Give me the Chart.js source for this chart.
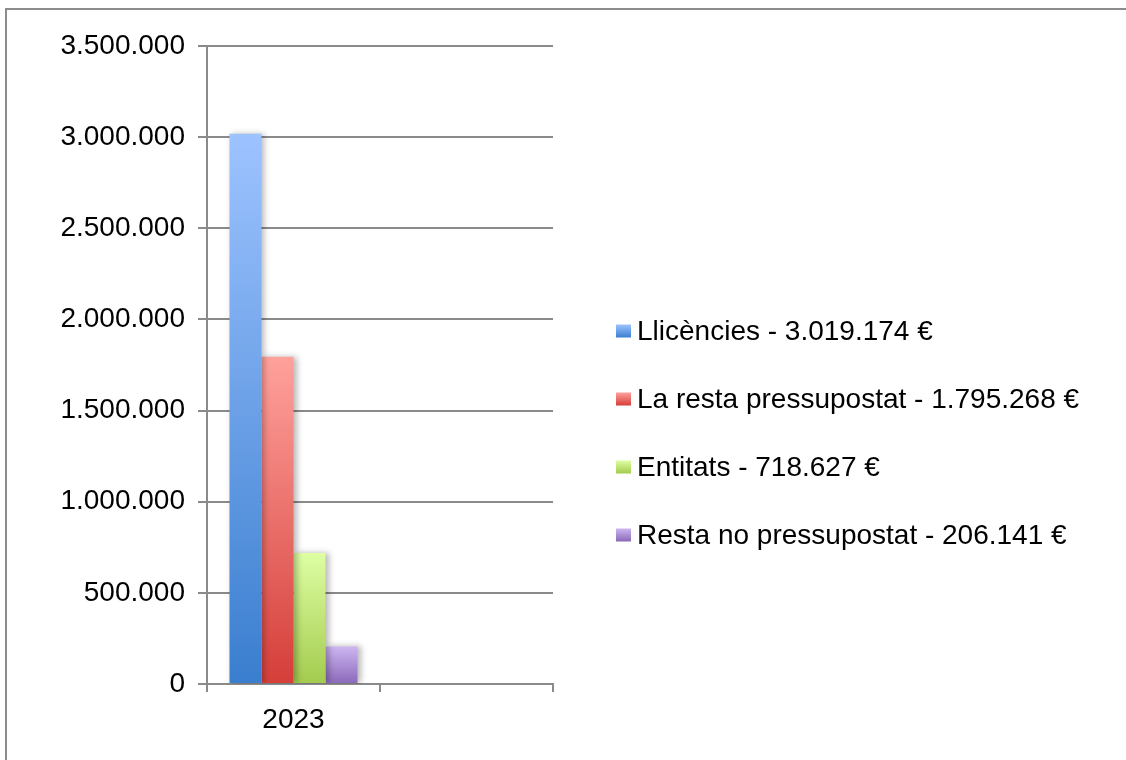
<!DOCTYPE html>
<html>
<head>
<meta charset="utf-8">
<script src="https://cdn.jsdelivr.net/npm/chart.js@4.4.0/dist/chart.umd.min.js"></script>
<style>
  html, body { margin: 0; padding: 0; background: #fff; overflow: hidden; }
  #wrap { position: relative; width: 1126px; height: 760px; }
  #frame { position: absolute; left: 5px; top: 8px; width: 1140px; height: 780px; border: 2px solid #8c8c8c; box-sizing: border-box; }
  canvas { position: absolute; left: 0; top: 0; }
</style>
</head>
<body>
<div id="wrap">
  <div id="frame"></div>
  <canvas id="budgetChart" width="1126" height="760"></canvas>
</div>
<script>
// Chart data
const categories = ['2023', ''];
const seriesLabels = [
    'Llicències - 3.019.174 €',
    'La resta pressupostat - 1.795.268 €',
    'Entitats - 718.627 €',
    'Resta no pressupostat - 206.141 €'
];
const llicencies = [3019174, null];
const restaPressupostat = [1795268, null];
const entitats = [718627, null];
const restaNoPressupostat = [206141, null];
const yTicks = [0, 500000, 1000000, 1500000, 2000000, 2500000, 3000000, 3500000];

// top / bottom colours of each bar gradient
const colours = [
    ['#9dc3ff', '#3a7ecf'],
    ['#ffa19c', '#d53e39'],
    ['#defea3', '#a3cb4e'],
    ['#cdb6f1', '#8a68ba']
];

const FONT = "'Liberation Sans', Arial, sans-serif";
const FONT_SIZE = 28;
const GRID = '#8a8a8a';

function formatThousands(v) {
    return String(v).replace(/\B(?=(\d{3})+(?!\d))/g, '.');
}

// vertical gradient fitted to each bar
function barGradient(top, bottom) {
    return (context) => {
        const chart = context.chart;
        if (!chart.chartArea || context.raw == null) return bottom;
        const y = chart.scales.y;
        const g = chart.ctx.createLinearGradient(0, y.getPixelForValue(context.raw), 0, y.getPixelForValue(0));
        g.addColorStop(0, top);
        g.addColorStop(1, bottom);
        return g;
    };
}

// soft shadow to the right of the bars
const barShadow = {
    id: 'barShadow',
    beforeDatasetsDraw(chart) {
        const c = chart.ctx;
        c.save();
        c.shadowColor = 'rgba(0,0,0,0.28)';
        c.shadowBlur = 6;
        c.shadowOffsetX = 3;
        c.shadowOffsetY = 0;
    },
    afterDatasetsDraw(chart) {
        chart.ctx.restore();
    }
};

// legend on the right with gradient squares
const sideLegend = {
    id: 'sideLegend',
    afterDraw(chart) {
        const c = chart.ctx;
        const boxX = chart.chartArea.right + 63;
        const firstY = 331;
        const step = 68;
        c.save();
        c.font = FONT_SIZE + 'px ' + FONT;
        c.textBaseline = 'middle';
        chart.data.datasets.forEach((ds, i) => {
            const cy = firstY + i * step;
            const g = c.createLinearGradient(0, cy - 6.5, 0, cy + 6.5);
            g.addColorStop(0, colours[i][0]);
            g.addColorStop(1, colours[i][1]);
            c.fillStyle = g;
            c.fillRect(boxX, cy - 6.5, 15, 13);
            c.fillStyle = '#000';
            c.fillText(ds.label, boxX + 21, cy + 1);
        });
        c.restore();
    }
};

const seriesValues = [llicencies, restaPressupostat, entitats, restaNoPressupostat];

const ctx = document.getElementById('budgetChart').getContext('2d');

new Chart(ctx, {
    type: 'bar',
    data: {
        labels: categories,
        datasets: seriesValues.map((vals, i) => ({
            label: seriesLabels[i],
            data: vals,
            backgroundColor: barGradient(colours[i][0], colours[i][1]),
            borderWidth: 0,
            categoryPercentage: 0.74,
            barPercentage: 1
        }))
    },
    options: {
        responsive: false,
        animation: false,
        layout: { padding: { top: 46, right: 573, bottom: 0, left: 0 } },
        plugins: {
            legend: { display: false },
            tooltip: { enabled: false }
        },
        scales: {
            x: {
                offset: true,
                grid: { offset: true, drawOnChartArea: false, drawTicks: true, tickLength: 8, color: GRID, lineWidth: 2 },
                border: { display: true, color: GRID, width: 2 },
                ticks: { color: '#000', padding: 11, font: { family: FONT, size: FONT_SIZE } },
                afterFit(scale) { scale.height = 76; }
            },
            y: {
                min: 0,
                max: 3500000,
                afterBuildTicks(scale) { scale.ticks = yTicks.map(v => ({ value: v })); },
                grid: { color: GRID, lineWidth: 2, tickLength: 9 },
                border: { display: true, color: GRID, width: 2 },
                ticks: { color: '#000', padding: 13, font: { family: FONT, size: FONT_SIZE }, callback: v => formatThousands(v) },
                afterFit(scale) { scale.width = 207; }
            }
        }
    },
    plugins: [barShadow, sideLegend]
});
</script>
</body>
</html>
